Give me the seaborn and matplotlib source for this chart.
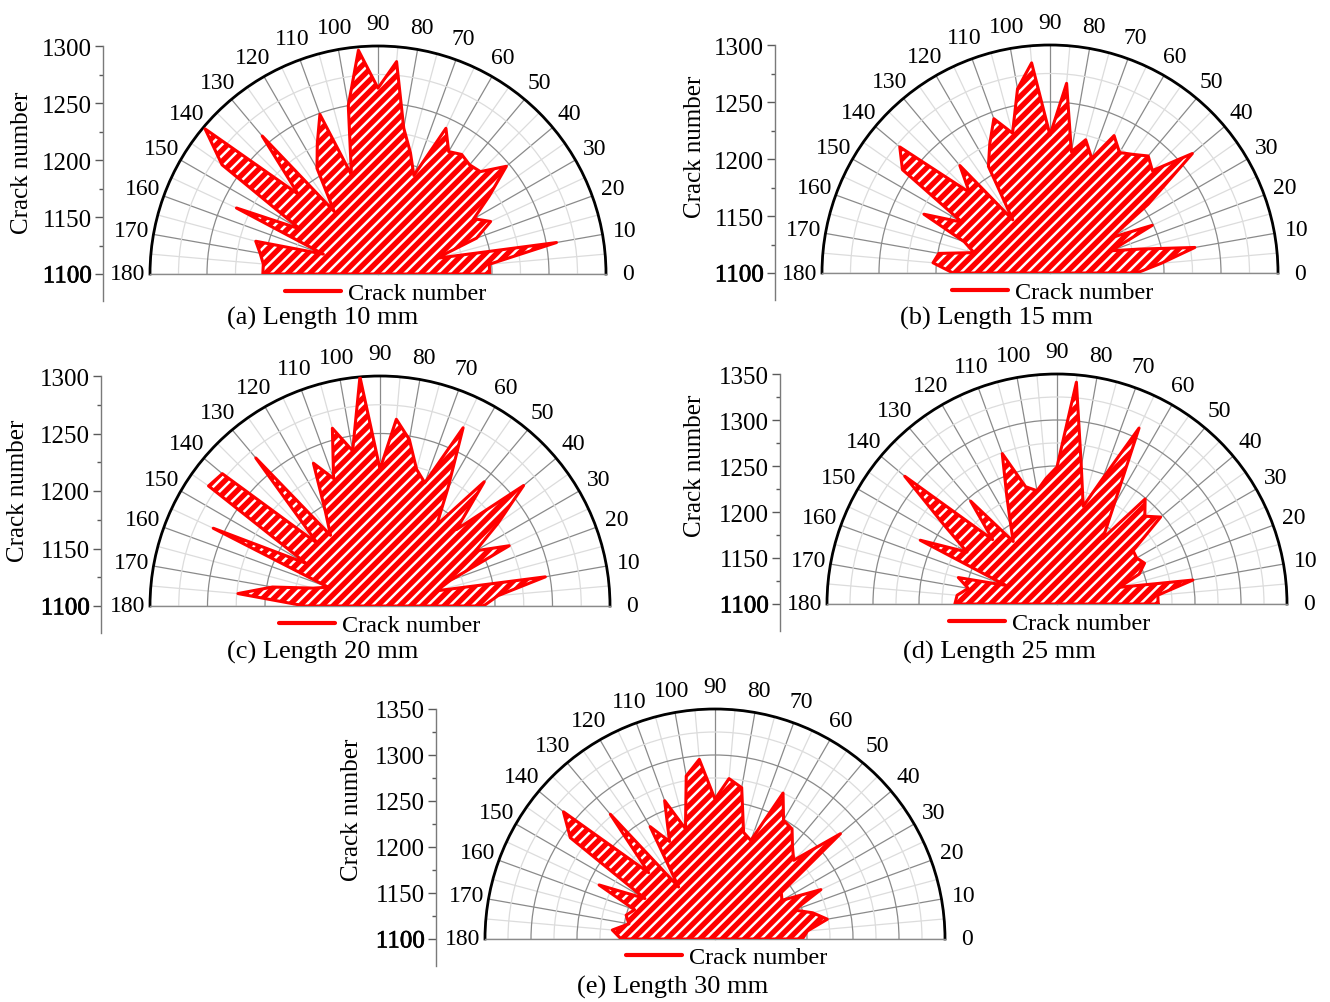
import numpy as np
import pandas as pd
import matplotlib
matplotlib.use("Agg")
import matplotlib.pyplot as plt
import matplotlib.patheffects as pe
import seaborn as sns
from matplotlib.ticker import FixedLocator
from matplotlib.lines import Line2D

sns.set_theme(style="white")
plt.rcParams["font.family"] = ["Liberation Serif", "DejaVu Serif"]
plt.rcParams["hatch.linewidth"] = 1.8
for key in ("text.color", "axes.labelcolor", "xtick.labelcolor", "ytick.labelcolor"):
    plt.rcParams[key] = "black"

# crack orientation (degrees) and crack counts for each trace length
angles_deg = np.arange(0, 181, 5)

crack_10mm = [1198, 1198, 1259, 1153, 1192, 1209, 1197, 1219, 1247, 1227, 1225, 1228, 1224,
              1241, 1192, 1210, 1230, 1287, 1263, 1297, 1250, 1190, 1249, 1226, 1207, 1167,
              1258, 1199, 1298, 1267, 1179, 1237, 1151, 1211, 1205, 1201, 1201]
crack_15mm = [1176, 1198, 1229, 1181, 1157, 1199, 1162, 1205, 1263, 1227, 1234, 1227, 1222,
              1233, 1207, 1221, 1208, 1267, 1221, 1285, 1264, 1227, 1244, 1225, 1208, 1157,
              1223, 1200, 1272, 1258, 1189, 1222, 1180, 1169, 1199, 1203, 1185]
crack_20mm = [1190, 1203, 1246, 1151, 1165, 1224, 1196, 1225, 1263, 1194, 1241, 1186, 1218,
              1271, 1214, 1223, 1247, 1263, 1219, 1300, 1237, 1260, 1218, 1237, 1195, 1175,
              1268, 1177, 1279, 1282, 1174, 1260, 1148, 1160, 1195, 1224, 1165]
crack_25mm = [1210, 1210, 1250, 1170, 1195, 1205, 1200, 1201, 1247, 1235, 1249, 1187, 1223,
              1311, 1245, 1210, 1252, 1342, 1249, 1237, 1225, 1232, 1274, 1229, 1201, 1183,
              1246, 1199, 1316, 1250, 1213, 1264, 1159, 1211, 1198, 1209, 1211]
crack_30mm = [1195, 1201, 1224, 1210, 1192, 1227, 1184, 1188, 1278, 1221, 1231, 1246, 1249,
              1275, 1214, 1220, 1267, 1275, 1252, 1296, 1280, 1224, 1260, 1217, 1241, 1169,
              1277, 1202, 1315, 1292, 1188, 1239, 1193, 1200, 1195, 1212, 1202]

captions = ["(a) Length 10 mm", "(b) Length 15 mm", "(c) Length 20 mm",
            "(d) Length 25 mm", "(e) Length 30 mm"]
series_label = "Crack number"
angle_ticks = np.arange(0, 181, 10)
angle_labels = [str(a) for a in angle_ticks]

W, H = 1330, 1003
fig = plt.figure(figsize=(W / 100, H / 100), dpi=100)


def box(x0, y0, w, h):
    """Pixel box (top-left origin) -> figure fraction rect."""
    return [x0 / W, 1 - (y0 + h) / H, w / W, h / H]


layout = [
    dict(vals=crack_10mm, rmax=1300, cx=378, cy=275, R=228, axx=103, ylx=22, yly=163,
         legx=386, legy=294, capx=323, capy=318),
    dict(vals=crack_15mm, rmax=1300, cx=1050, cy=274, R=228, axx=775, ylx=695, yly=147,
         legx=1053, legy=293, capx=996, capy=318),
    dict(vals=crack_20mm, rmax=1300, cx=380, cy=607, R=230, axx=101, ylx=18, yly=491,
         legx=380, legy=626, capx=323, capy=652),
    dict(vals=crack_25mm, rmax=1350, cx=1057, cy=605, R=230, axx=780, ylx=695, yly=466,
         legx=1050, legy=624, capx=999, capy=652),
    dict(vals=crack_30mm, rmax=1350, cx=715, cy=940, R=230, axx=436, ylx=352, yly=810,
         legx=727, legy=958, capx=673, capy=987),
]

for p, cap in zip(layout, captions):
    cx, cy, R, rmax = p["cx"], p["cy"], p["R"], p["rmax"]
    # a half-disc polar axes keeps a square frame with the half disc centred in it
    ax = fig.add_axes(box(cx - R, cy - 1.5 * R, 2 * R, 2 * R), projection="polar")
    ax.set_thetamin(0)
    ax.set_thetamax(180)
    ax.patch.set_alpha(0)

    theta = np.deg2rad(angles_deg)
    r = np.asarray(p["vals"], dtype=float)

    # hatched area: red ground with white diagonal stripes
    ax.fill(theta, r, facecolor="red", edgecolor="white", hatch="///", lw=0, zorder=2)
    df = pd.DataFrame({"theta": np.append(theta, theta[0]), "count": np.append(r, r[0])})
    sns.lineplot(data=df, x="theta", y="count", ax=ax, color="red", lw=2.2,
                 sort=False, estimator=None, zorder=3)
    ax.set_xlabel("")
    ax.set_ylabel("")
    ax.set_rlim(1100, rmax)

    # angular ticks / grid
    ax.set_xticks(np.deg2rad(angle_ticks))
    ax.set_xticklabels(angle_labels)
    ax.xaxis.set_minor_locator(FixedLocator(np.deg2rad(np.arange(5, 180, 10))))
    ax.tick_params(axis="x", which="major", direction="in", length=7, width=1.3,
                   color="black", pad=9, labelsize=17)
    ax.tick_params(axis="x", which="minor", direction="in", length=4, width=1.1,
                   color="black")

    # radial grid circles
    ax.set_yticks(np.arange(1150, rmax + 1, 50))
    ax.yaxis.set_minor_locator(FixedLocator(np.arange(1125, rmax, 50)))
    ax.set_yticklabels([])
    ax.tick_params(axis="y", which="both", length=0)

    ax.grid(True, which="major", color="#8a8a8a", lw=0.9)
    ax.grid(True, which="minor", color="#dcdcdc", lw=0.9)
    ax.set_axisbelow(True)

    ax.spines["polar"].set_color("black")
    ax.spines["polar"].set_linewidth(2.0)
    for s in ("start", "end"):
        ax.spines[s].set_color("#8a8a8a")
        ax.spines[s].set_linewidth(1.0)
    ax.spines["inner"].set_visible(False)

    # linear count axis on the left
    extra = 27
    lax = fig.add_axes(box(p["axx"], cy - R, 0.5, R + extra))
    lax.set_ylim(1100 - extra * (rmax - 1100) / R, rmax)
    lax.set_xlim(0, 1)
    lax.patch.set_visible(False)
    for s in ("top", "right", "bottom"):
        lax.spines[s].set_visible(False)
    lax.spines["left"].set_color("#7a7a7a")
    lax.spines["left"].set_linewidth(1.0)
    lax.set_xticks([])
    lax.set_yticks(np.arange(1100, rmax + 1, 50))
    lax.yaxis.set_minor_locator(FixedLocator(np.arange(1125, rmax, 50)))
    lax.tick_params(axis="y", which="major", direction="out", length=6, width=1.0,
                    color="#5a5a5a", labelsize=18, pad=2, left=True)
    lax.tick_params(axis="y", which="minor", direction="out", length=3, width=1.0,
                    color="#5a5a5a", left=True)
    # the origin value is printed slightly heavier
    lax.get_yticklabels()[0].set_path_effects(
        [pe.withStroke(linewidth=0.45, foreground="black")])

    fig.text(p["ylx"] / W, 1 - p["yly"] / H, series_label, rotation=90,
             ha="center", va="center", fontsize=18)

    fig.legend(handles=[Line2D([], [], color="red", lw=3)], labels=[series_label],
               loc="center", bbox_to_anchor=(p["legx"] / W, 1 - p["legy"] / H),
               frameon=False, fontsize=17.5, handlelength=2.3, handletextpad=0.3,
               borderpad=0, borderaxespad=0)
    fig.text(p["capx"] / W, 1 - p["capy"] / H, cap, ha="center", va="center",
             fontsize=19)

fig.savefig("out.png", dpi=100)
